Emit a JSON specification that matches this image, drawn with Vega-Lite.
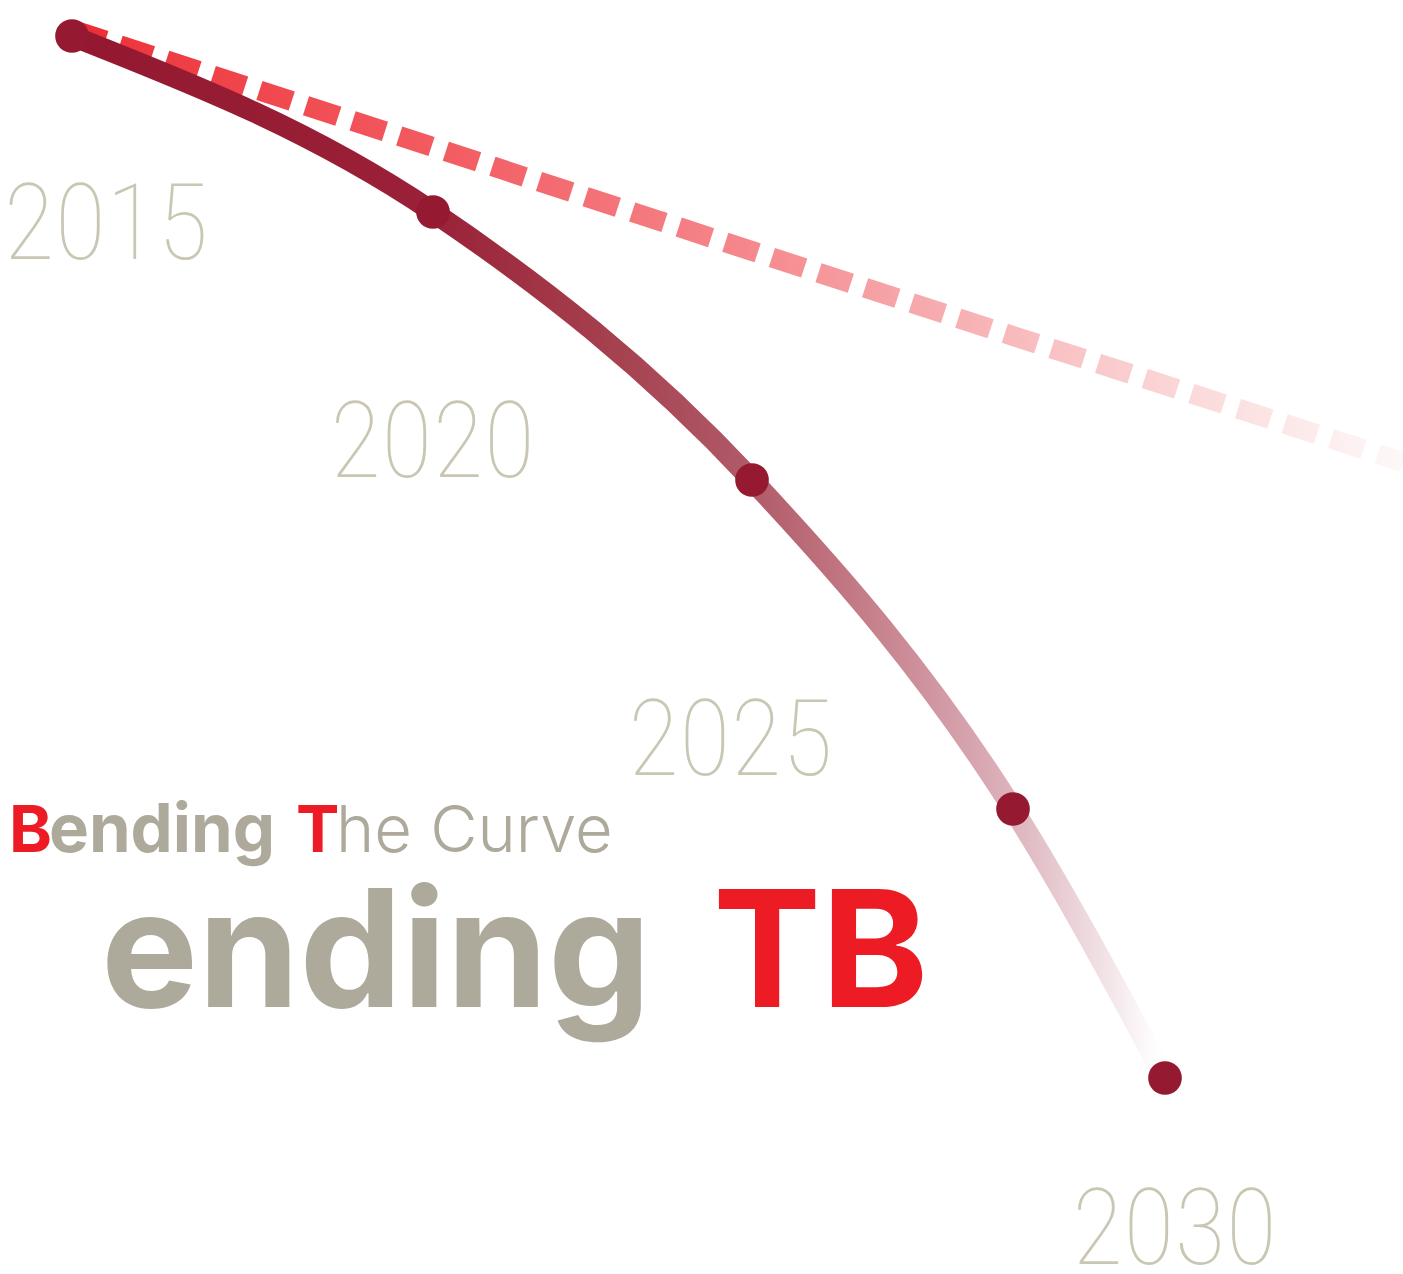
{
  "$schema": "https://vega.github.io/schema/vega-lite/v6.json",
  "width": 1403,
  "height": 1274,
  "autosize": {"type": "none"},
  "padding": 0,
  "background": "white",
  "config": {"view": {"stroke": null}},
  "datasets": {
    "target": [
      {"x": 7.3, "y": 124.4},
      {"x": 43.3, "y": 112.7},
      {"x": 75.2, "y": 102.3},
      {"x": 101.3, "y": 93.8},
      {"x": 116.5, "y": 88.9},
      {"x": 140.3, "y": 81.2}
    ],
    "achieved": [
      {"year": 2015, "x": 7.2, "y": 123.8},
      {"year": 2020, "x": 43.3, "y": 106.2},
      {"year": 2025, "x": 75.2, "y": 79.4},
      {"year": 2027, "x": 101.3, "y": 46.5},
      {"year": 2030, "x": 116.5, "y": 19.6}
    ],
    "years": [
      {"label": "2015", "x": 10.6, "y": 101.5},
      {"label": "2020", "x": 43.25, "y": 79.7},
      {"label": "2025", "x": 73.05, "y": 49.9},
      {"label": "2030", "x": 117.45, "y": 1.0}
    ]
  },
  "encoding": {
    "x": {"field": "x", "type": "quantitative", "scale": {"domain": [0, 140.3], "nice": false, "zero": false}, "axis": null},
    "y": {"field": "y", "type": "quantitative", "scale": {"domain": [0, 127.4], "nice": false, "zero": false}, "axis": null}
  },
  "layer": [
    {
      "data": {"name": "target"},
      "mark": {
        "type": "line",
        "strokeWidth": 20,
        "strokeDash": [34, 15],
        "strokeCap": "butt",
        "stroke": {
          "gradient": "linear", "x1": 0, "y1": 0, "x2": 1, "y2": 0,
          "stops": [
            {"offset": 0, "color": "#EC2A33"},
            {"offset": 0.05, "color": "#EE3940"},
            {"offset": 0.19, "color": "#F14F55"},
            {"offset": 0.29, "color": "#F25E64"},
            {"offset": 0.5, "color": "#F5868B"},
            {"offset": 0.62, "color": "#F6A5A8"},
            {"offset": 0.745, "color": "#F9C3C5"},
            {"offset": 0.85, "color": "#FBDBDC"},
            {"offset": 0.95, "color": "#FDEFEF"},
            {"offset": 1, "color": "#FEF8F8"}
          ]
        }
      },
      "encoding": {}
    },
    {
      "data": {"name": "achieved"},
      "mark": {
        "type": "line",
        "interpolate": "monotone",
        "strokeWidth": 21,
        "strokeCap": "butt",
        "stroke": {
          "gradient": "linear", "x1": 0, "y1": 0, "x2": 1, "y2": 0,
          "stops": [
            {"offset": 0, "color": "#93182F"},
            {"offset": 0.33, "color": "#9A2139"},
            {"offset": 0.5, "color": "#A6424F"},
            {"offset": 0.62, "color": "#B05A6A"},
            {"offset": 0.7, "color": "#C07480"},
            {"offset": 0.76, "color": "#CB8B96"},
            {"offset": 0.86, "color": "#DDB3BC"},
            {"offset": 0.94, "color": "#F0E0E4"},
            {"offset": 0.985, "color": "#FDFAFB"},
            {"offset": 1, "color": "#FFFFFF"}
          ]
        }
      },
      "encoding": {}
    },
    {
      "data": {"name": "achieved"},
      "mark": {"type": "circle", "size": 1134, "color": "#951A31", "opacity": 1},
      "encoding": {}
    },
    {
      "data": {"name": "years"},
      "mark": {"type": "text", "font": "Roboto Condensed", "fontWeight": 100, "fontSize": 106, "color": "#C9C7B4", "align": "center", "baseline": "alphabetic"},
      "encoding": {"text": {"field": "label"}}
    },
    {
      "data": {"values": [{"text": "B", "x": 0.9, "y": 42.2}, {"text": "T", "x": 29.6, "y": 42.2}]},
      "mark": {"type": "text", "font": "Inter", "fontWeight": 700, "fontSize": 65, "color": "#ED1C24", "align": "left", "baseline": "alphabetic"},
      "encoding": {"text": {"field": "text"}}
    },
    {
      "data": {"values": [{"text": "ending", "x": 4.9, "y": 42.2}]},
      "mark": {"type": "text", "font": "Inter", "fontWeight": 700, "fontSize": 67, "color": "#ADA99B", "align": "left", "baseline": "alphabetic"},
      "encoding": {"text": {"field": "text"}}
    },
    {
      "data": {"values": [{"text": "he Curve", "x": 33.6, "y": 42.2}]},
      "mark": {"type": "text", "font": "Inter", "fontWeight": 300, "fontSize": 65, "color": "#ADA99B", "align": "left", "baseline": "alphabetic"},
      "encoding": {"text": {"field": "text"}}
    },
    {
      "data": {"values": [{"text": "ending", "x": 10.1, "y": 26.7}]},
      "mark": {"type": "text", "font": "Inter", "fontWeight": 700, "fontSize": 163, "color": "#ADA99B", "align": "left", "baseline": "alphabetic"},
      "encoding": {"text": {"field": "text"}}
    },
    {
      "data": {"values": [{"text": "TB", "x": 71.3, "y": 26.7}]},
      "mark": {"type": "text", "font": "Inter", "fontWeight": 700, "fontSize": 162, "color": "#ED1C24", "align": "left", "baseline": "alphabetic"},
      "encoding": {"text": {"field": "text"}}
    }
  ]
}
